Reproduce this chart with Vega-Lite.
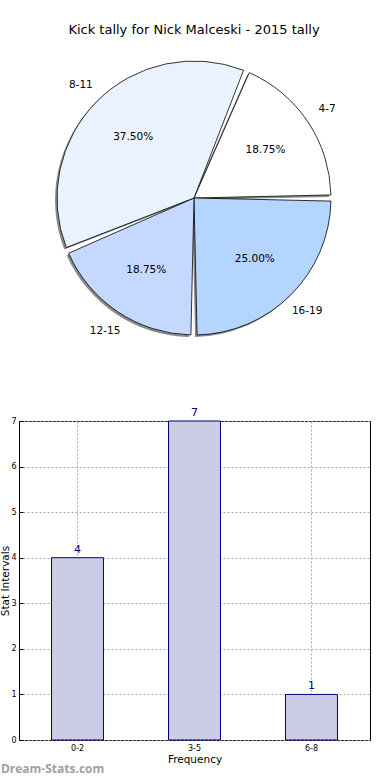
{
  "$schema": "https://vega.github.io/schema/vega-lite/v6.json",
  "padding": {"top": 24, "left": 0, "right": 0, "bottom": 0},
  "spacing": 59,
  "config": {
    "font": "DejaVu Sans",
    "view": {"stroke": null},
    "title": {"font": "DejaVu Sans", "fontWeight": "normal", "color": "black"}
  },
  "vconcat": [
    {
      "width": 350,
      "height": 298,
      "title": {"text": "Kick tally for Nick Malceski - 2015 tally", "fontSize": 13, "offset": 12},
      "data": {
        "values": [
          {"range": "4-7", "count": 3, "pct": "18.75%", "ord": 1},
          {"range": "16-19", "count": 4, "pct": "25.00%", "ord": 2},
          {"range": "12-15", "count": 3, "pct": "18.75%", "ord": 3},
          {"range": "8-11", "count": 6, "pct": "37.50%", "ord": 4}
        ]
      },
      "encoding": {
        "theta": {"field": "count", "type": "quantitative", "stack": true, "scale": {"range": [0.3927, 6.6759]}},
        "order": {"field": "ord", "type": "quantitative"}
      },
      "layer": [
        {
          "mark": {"type": "arc", "outerRadius": 137, "padAngle": 0.045, "fill": "#8a8a8a", "xOffset": -2, "yOffset": 2}
        },
        {
          "mark": {"type": "arc", "outerRadius": 137, "padAngle": 0.045, "stroke": "black", "strokeWidth": 0.8},
          "encoding": {
            "color": {"field": "range", "type": "nominal", "legend": null,
              "scale": {"domain": ["4-7", "16-19", "12-15", "8-11"], "range": ["#ffffff", "#b3d5ff", "#c5d8ff", "#eaf2ff"]}}
          }
        },
        {
          "mark": {"type": "text", "radius": 86, "fontSize": 10.5, "color": "black"},
          "encoding": {"text": {"field": "pct"}}
        },
        {
          "mark": {"type": "text", "radius": 160, "fontSize": 10.5, "color": "black"},
          "encoding": {"text": {"field": "range"}}
        }
      ]
    },
    {
      "width": 351,
      "height": 319,
      "view": {"stroke": "black", "strokeWidth": 1},
      "title": {"text": "Dream-Stats.com", "orient": "bottom", "anchor": "start", "fontSize": 12, "font": "Open Sans", "fontWeight": "bold", "color": "#a0a0a0", "offset": -1},
      "data": {
        "values": [
          {"interval": "0-2", "count": 4},
          {"interval": "3-5", "count": 7},
          {"interval": "6-8", "count": 1}
        ]
      },
      "encoding": {
        "x": {"field": "interval", "type": "nominal", "sort": null,
          "scale": {"paddingInner": 0.556, "paddingOuter": 0.278},
          "axis": {"title": "Frequency", "labelAngle": 0, "labelFontSize": 8, "titleFontSize": 10.5, "titleFontWeight": "normal", "titlePadding": 2, "labelPadding": 8, "tickSize": -4, "tickColor": "black", "domain": false, "grid": true, "gridDash": [2, 2], "gridColor": "#aaaaaa", "labelColor": "black", "titleColor": "black"}},
        "y": {"field": "count", "type": "quantitative",
          "scale": {"domain": [0, 7], "nice": false},
          "axis": {"title": "Stat Intervals", "values": [0, 1, 2, 3, 4, 5, 6, 7], "labelFontSize": 8, "titleFontSize": 10.5, "titleFontWeight": "normal", "titlePadding": 0, "labelPadding": 7, "tickSize": -4, "tickColor": "black", "domain": false, "grid": true, "gridDash": [2, 2], "gridColor": "#aaaaaa", "labelColor": "black", "titleColor": "black"}}
      },
      "layer": [
        {"mark": {"type": "bar", "fill": "#ccccE6", "stroke": "#000080", "strokeWidth": 1}},
        {"mark": {"type": "text", "baseline": "bottom", "dy": -3, "fontSize": 11, "color": "#000080"},
          "encoding": {"text": {"field": "count", "type": "quantitative"}}}
      ]
    }
  ]
}
